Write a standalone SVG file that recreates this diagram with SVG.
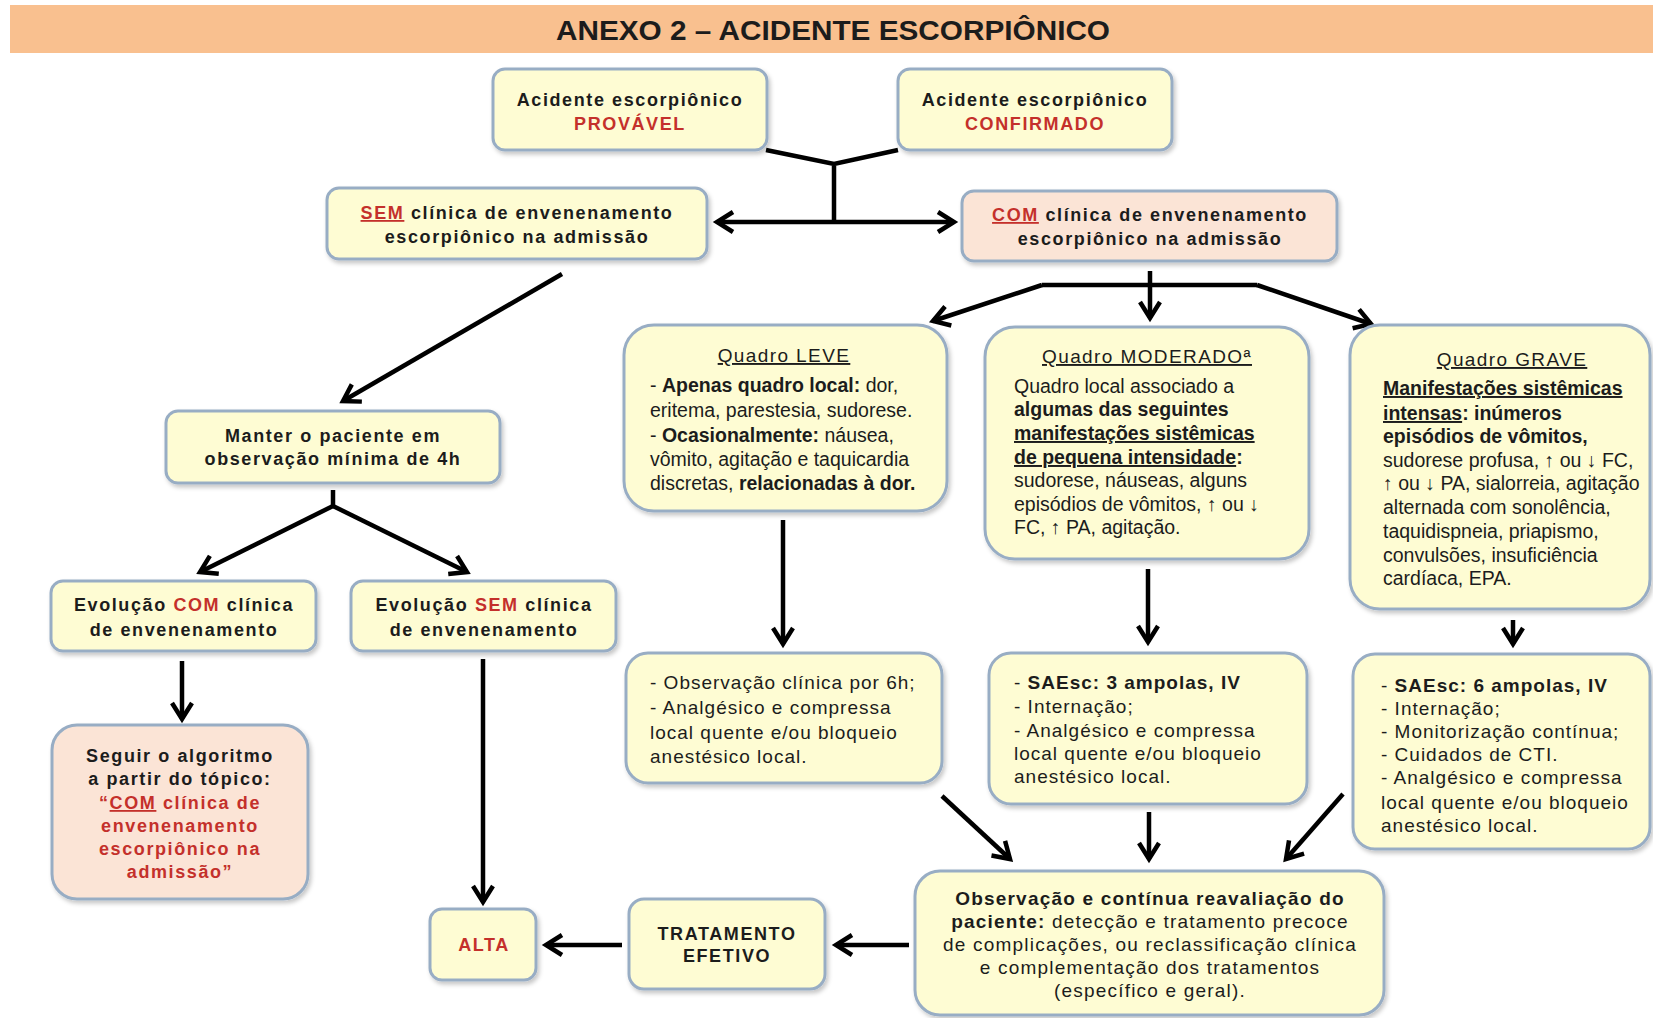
<svg xmlns="http://www.w3.org/2000/svg" width="1653" height="1018" viewBox="0 0 1653 1018">
<defs>
<filter id="sh" x="-5%" y="-5%" width="115%" height="120%"><feDropShadow dx="2" dy="3" stdDeviation="2" flood-color="#000" flood-opacity="0.22"/></filter>
<marker id="ah" markerUnits="userSpaceOnUse" markerWidth="30" markerHeight="30" viewBox="0 0 30 30" refX="24" refY="15" orient="auto-start-reverse">
<path d="M8,5 L24,15 L8,25" fill="none" stroke="#000" stroke-width="4.5" stroke-linejoin="miter"/>
</marker>
<style>
.box{fill:#FEFCD3;stroke:#98ADC4;stroke-width:3;filter:url(#sh)}
.pink{fill:#FBE4D6}
.c{stroke:#000;stroke-width:4.5;fill:none}
.a{marker-end:url(#ah)}
text{font-family:"Liberation Sans",Arial,sans-serif;fill:#1c1c1c}
.h{font-size:18px;font-weight:bold;letter-spacing:1.6px;text-anchor:middle}
.r{fill:#C4302B}
.u{text-decoration:underline}
.qt{font-size:19px;letter-spacing:1.4px;text-anchor:middle;text-decoration:underline}
.qb{font-size:19.5px}
.tb{font-size:19px;letter-spacing:1px}
.ob{font-size:19px;letter-spacing:1.2px;text-anchor:middle}
.b{font-weight:bold}
</style>
</defs>
<rect x="10" y="5" width="1643" height="48" fill="#F9C08F"/>
<text x="833" y="40" font-size="27" font-weight="bold" text-anchor="middle" textLength="554" lengthAdjust="spacingAndGlyphs">ANEXO 2 – ACIDENTE ESCORPIÔNICO</text>

<g id="connectors">
<path class="c" d="M766,150 L834,164 L898,150 M834,164 L834,222"/>
<path class="c a" d="M834,222 L717,222"/>
<path class="c a" d="M834,222 L954,222"/>
<path class="c a" d="M562,274 L343,401"/>
<path class="c" d="M333,490 L333,506"/>
<path class="c a" d="M333,506 L200,572"/>
<path class="c a" d="M333,506 L467,572"/>
<path class="c a" d="M182,661 L182,719"/>
<path class="c a" d="M483,659 L483,902"/>
<path class="c a" d="M1150,271 L1150,318"/>
<path class="c" d="M1042,285 L1257,285"/>
<path class="c a" d="M1042,285 L933,321"/>
<path class="c a" d="M1257,285 L1371,324"/>
<path class="c a" d="M783,520 L783,644"/>
<path class="c a" d="M1148,569 L1148,642"/>
<path class="c a" d="M1513,620 L1513,644"/>
<path class="c a" d="M942,796 L1010,859"/>
<path class="c a" d="M1149,812 L1149,859"/>
<path class="c a" d="M1343,794 L1286,859"/>
<path class="c a" d="M909,945 L836,945"/>
<path class="c a" d="M622,945 L546,945"/>
</g>

<g id="n_provavel">
<rect class="box" x="493" y="69" width="274" height="81" rx="12"/>
<text class="h" x="630" y="106">Acidente escorpiônico</text>
<text class="h r" x="630" y="130">PROVÁVEL</text>
</g>
<g id="n_confirmado">
<rect class="box" x="898" y="69" width="274" height="81" rx="12"/>
<text class="h" x="1035" y="106">Acidente escorpiônico</text>
<text class="h r" x="1035" y="130">CONFIRMADO</text>
</g>
<g id="n_sem">
<rect class="box" x="327" y="188" width="380" height="71" rx="12"/>
<text class="h" x="517" y="219"><tspan class="r u">SEM</tspan> clínica de envenenamento</text>
<text class="h" x="517" y="243">escorpiônico na admissão</text>
</g>
<g id="n_com">
<rect class="box pink" x="962" y="191" width="375" height="70" rx="12"/>
<text class="h" x="1150" y="221"><tspan class="r u">COM</tspan> clínica de envenenamento</text>
<text class="h" x="1150" y="245">escorpiônico na admissão</text>
</g>
<g id="n_leve">
<rect class="box" x="624" y="325" width="323" height="186" rx="30"/>
<text class="qt" x="784" y="362">Quadro LEVE</text>
<text class="qb" x="650" y="392">- <tspan class="b">Apenas quadro local:</tspan> dor,</text>
<text class="qb" x="650" y="417">eritema, parestesia, sudorese.</text>
<text class="qb" x="650" y="442">- <tspan class="b">Ocasionalmente:</tspan> náusea,</text>
<text class="qb" x="650" y="466">vômito, agitação e taquicardia</text>
<text class="qb" x="650" y="490">discretas, <tspan class="b">relacionadas à dor.</tspan></text>
</g>
<g id="n_moderado">
<rect class="box" x="985" y="327" width="324" height="232" rx="30"/>
<text class="qt" x="1147" y="363">Quadro MODERADOª</text>
<text class="qb" x="1014" y="393">Quadro local associado a</text>
<text class="qb b" x="1014" y="416">algumas das seguintes</text>
<text class="qb b u" x="1014" y="440">manifestações sistêmicas</text>
<text class="qb b" x="1014" y="464"><tspan class="u">de pequena intensidade</tspan>:</text>
<text class="qb" x="1014" y="487">sudorese, náuseas, alguns</text>
<text class="qb" x="1014" y="511">episódios de vômitos, ↑ ou ↓</text>
<text class="qb" x="1014" y="534">FC, ↑ PA, agitação.</text>
</g>
<g id="n_grave">
<rect class="box" x="1350" y="325" width="300" height="284" rx="30"/>
<text class="qt" x="1512" y="366">Quadro GRAVE</text>
<text class="qb b u" x="1383" y="395">Manifestações sistêmicas</text>
<text class="qb b" x="1383" y="420"><tspan class="u">intensas</tspan>: inúmeros</text>
<text class="qb b" x="1383" y="443">episódios de vômitos,</text>
<text class="qb" x="1383" y="467">sudorese profusa, ↑ ou ↓ FC,</text>
<text class="qb" x="1383" y="490">↑ ou ↓ PA, sialorreia, agitação</text>
<text class="qb" x="1383" y="514">alternada com sonolência,</text>
<text class="qb" x="1383" y="538">taquidispneia, priapismo,</text>
<text class="qb" x="1383" y="562">convulsões, insuficiência</text>
<text class="qb" x="1383" y="585">cardíaca, EPA.</text>
</g>
<g id="n_manter">
<rect class="box" x="166" y="411" width="334" height="72" rx="12"/>
<text class="h" x="333" y="442">Manter o paciente em</text>
<text class="h" x="333" y="465">observação mínima de 4h</text>
</g>
<g id="n_evol_com">
<rect class="box" x="51" y="581" width="265" height="70" rx="12"/>
<text class="h" x="184" y="611">Evolução <tspan class="r">COM</tspan> clínica</text>
<text class="h" x="184" y="636">de envenenamento</text>
</g>
<g id="n_evol_sem">
<rect class="box" x="351" y="581" width="265" height="70" rx="12"/>
<text class="h" x="484" y="611">Evolução <tspan class="r">SEM</tspan> clínica</text>
<text class="h" x="484" y="636">de envenenamento</text>
</g>
<g id="n_seguir">
<rect class="box pink" x="52" y="725" width="256" height="174" rx="25"/>
<text class="h" x="180" y="762">Seguir o algoritmo</text>
<text class="h" x="180" y="785">a partir do tópico:</text>
<text class="h r" x="180" y="809">“<tspan class="u">COM</tspan> clínica de</text>
<text class="h r" x="180" y="832">envenenamento</text>
<text class="h r" x="180" y="855">escorpiônico na</text>
<text class="h r" x="180" y="878">admissão”</text>
</g>
<g id="n_trat_leve">
<rect class="box" x="626" y="653" width="316" height="130" rx="22"/>
<text class="tb" x="650" y="689">- Observação clínica por 6h;</text>
<text class="tb" x="650" y="714">- Analgésico e compressa</text>
<text class="tb" x="650" y="739">local quente e/ou bloqueio</text>
<text class="tb" x="650" y="763">anestésico local.</text>
</g>
<g id="n_trat_mod">
<rect class="box" x="989" y="653" width="318" height="151" rx="22"/>
<text class="tb" x="1014" y="689">- <tspan class="b">SAEsc: 3 ampolas, IV</tspan></text>
<text class="tb" x="1014" y="713">- Internação;</text>
<text class="tb" x="1014" y="737">- Analgésico e compressa</text>
<text class="tb" x="1014" y="760">local quente e/ou bloqueio</text>
<text class="tb" x="1014" y="783">anestésico local.</text>
</g>
<g id="n_trat_grave">
<rect class="box" x="1353" y="654" width="297" height="195" rx="22"/>
<text class="tb" x="1381" y="692">- <tspan class="b">SAEsc: 6 ampolas, IV</tspan></text>
<text class="tb" x="1381" y="715">- Internação;</text>
<text class="tb" x="1381" y="738">- Monitorização contínua;</text>
<text class="tb" x="1381" y="761">- Cuidados de CTI.</text>
<text class="tb" x="1381" y="784">- Analgésico e compressa</text>
<text class="tb" x="1381" y="809">local quente e/ou bloqueio</text>
<text class="tb" x="1381" y="832">anestésico local.</text>
</g>
<g id="n_obs">
<rect class="box" x="915" y="871" width="469" height="144" rx="25"/>
<text class="ob b" x="1150" y="905">Observação e contínua reavaliação do</text>
<text class="ob" x="1150" y="928"><tspan class="b">paciente:</tspan> detecção e tratamento precoce</text>
<text class="ob" x="1150" y="951">de complicações, ou reclassificação clínica</text>
<text class="ob" x="1150" y="974">e complementação dos tratamentos</text>
<text class="ob" x="1150" y="997">(específico e geral).</text>
</g>
<g id="n_trat">
<rect class="box" x="629" y="899" width="196" height="90" rx="15"/>
<text class="h" x="727" y="940">TRATAMENTO</text>
<text class="h" x="727" y="962">EFETIVO</text>
</g>
<g id="n_alta">
<rect class="box" x="430" y="909" width="106" height="71" rx="12"/>
<text class="h r" x="484" y="951">ALTA</text>
</g>
</svg>
